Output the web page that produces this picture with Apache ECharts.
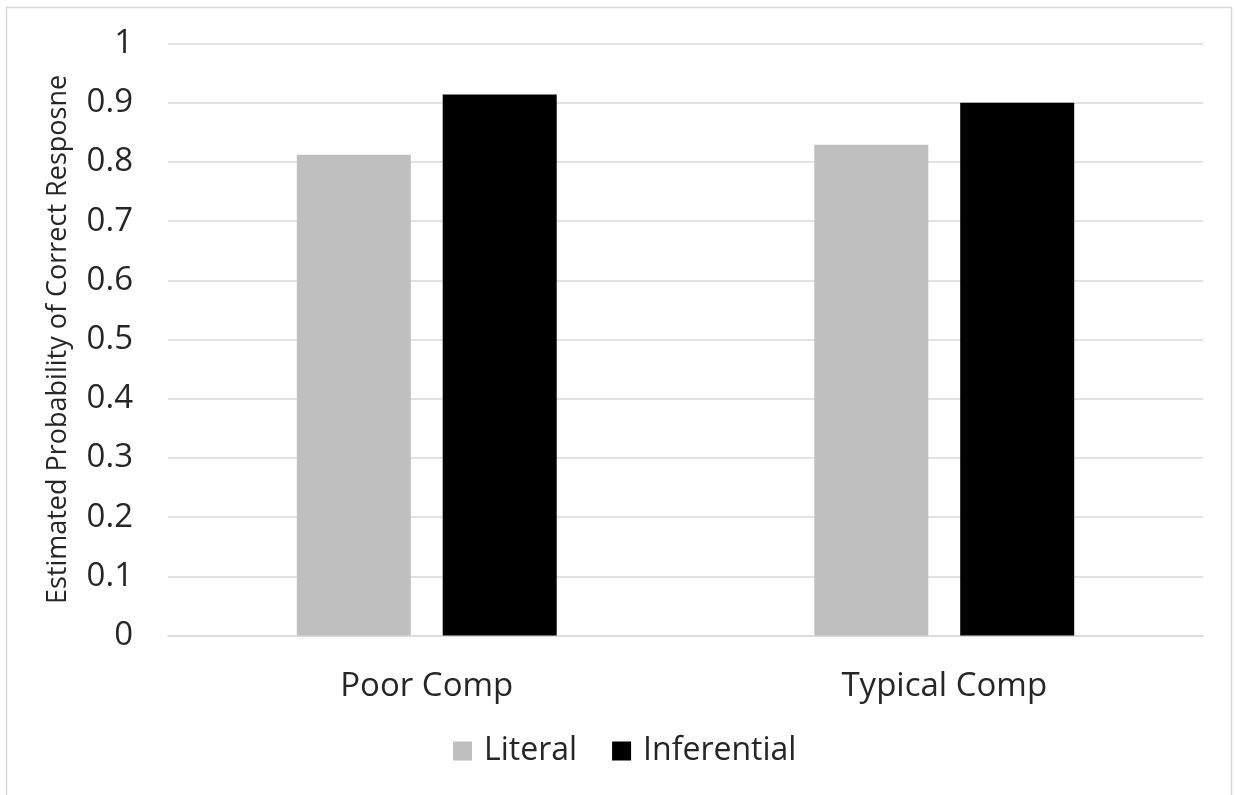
<!DOCTYPE html>
<html>
<head>
<meta charset="utf-8">
<script src="https://cdn.jsdelivr.net/npm/echarts@6/dist/echarts.min.js"></script>
<style>
  html, body { margin: 0; padding: 0; background: #fff; }
  #chart { width: 1236px; height: 795px; }
</style>
</head>
<body>
<div id="chart"></div>
<script>
// Comprehension groups on the x axis
const categories = ['Poor Comp', 'Typical Comp'];
// Estimated probability of a correct response, per question type
const literal = [0.812, 0.829];
const inferential = [0.914, 0.900];
const seriesNames = ['Literal', 'Inferential'];
const yTicks = [0, 0.1, 0.2, 0.3, 0.4, 0.5, 0.6, 0.7, 0.8, 0.9, 1];

const FONT = '"Open Sans", "Noto Sans", sans-serif';
const TEXT = '#262626';
const chart = echarts.init(document.getElementById('chart'), null, { renderer: 'canvas' });

chart.setOption({
  backgroundColor: '#ffffff',
  animation: false,
  textStyle: { fontFamily: FONT },
  graphic: [{
    type: 'rect',
    shape: { x: 6.5, y: 7.5, width: 1225, height: 790 },
    style: { fill: 'none', stroke: '#d9d9d9', lineWidth: 1.5 },
    silent: true
  }],
  grid: { left: 168, right: 33, top: 43.5, bottom: 159.5, containLabel: false },
  legend: {
    data: seriesNames,
    bottom: 23,
    left: 448,
    itemWidth: 19,
    itemHeight: 19,
    itemGap: 35,
    icon: 'rect',
    textStyle: { fontSize: 32, color: TEXT, fontFamily: FONT, padding: [0, 0, 0, 7] }
  },
  xAxis: {
    type: 'category',
    data: categories,
    axisLine: { show: true, lineStyle: { color: '#d9d9d9', width: 1.5 } },
    axisTick: { show: false },
    axisLabel: { fontSize: 33, color: TEXT, margin: 35, fontFamily: FONT }
  },
  yAxis: {
    type: 'value',
    min: 0,
    max: 1,
    interval: 0.1,
    name: 'Estimated Probability of Correct Resposne',
    nameLocation: 'middle',
    nameGap: 96,
    nameTextStyle: { fontSize: 27, color: TEXT, fontFamily: FONT },
    axisLine: { show: false },
    axisTick: { show: false },
    splitLine: { lineStyle: { color: '#d9d9d9', width: 1.5 } },
    axisLabel: {
      fontSize: 33,
      color: TEXT,
      margin: 35,
      fontFamily: FONT,
      formatter: v => {
        const t = yTicks.find(k => Math.abs(k - v) < 1e-9);
        return t === undefined ? '' : String(t);
      }
    }
  },
  series: [
    {
      name: seriesNames[0],
      type: 'bar',
      data: literal,
      barWidth: 114,
      barGap: '28%',
      itemStyle: { color: '#bfbfbf' }
    },
    {
      name: seriesNames[1],
      type: 'bar',
      data: inferential,
      barWidth: 114,
      itemStyle: { color: '#000000' }
    }
  ]
});
</script>
</body>
</html>
